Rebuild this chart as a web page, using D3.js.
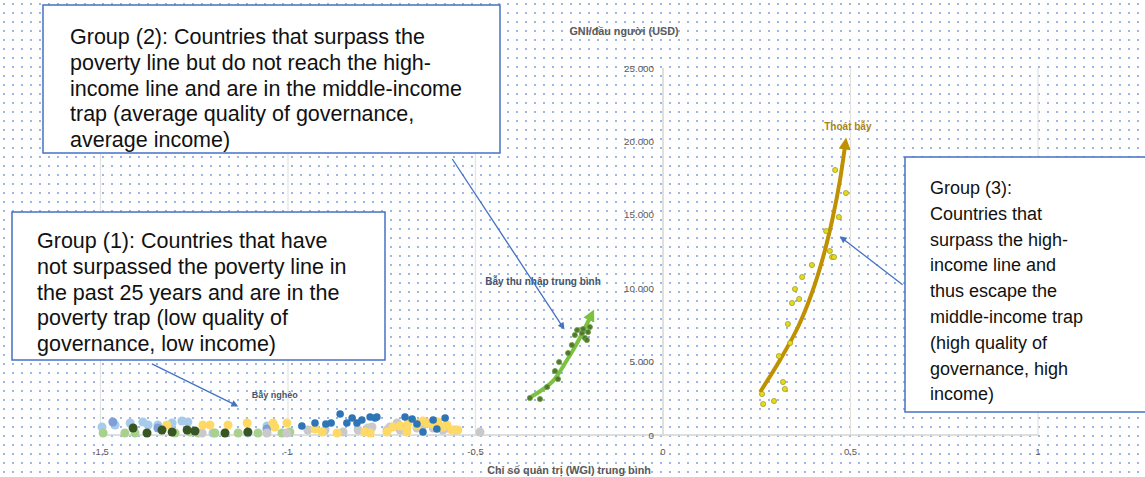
<!DOCTYPE html>
<html>
<head>
<meta charset="utf-8">
<script src="https://cdn.jsdelivr.net/npm/d3@7"></script>
<style>
  html, body { margin: 0; padding: 0; background: #fff; }
  svg { display: block; }
</style>
</head>
<body>
<div id="chart"></div>
<script>
// axis ticks
const xTicks = [-1.5, -1, -0.5, 0, 0.5, 1];
const yTicks = [0, 5000, 10000, 15000, 20000, 25000];

// group (1) - poverty trap, one array per colour [WGI, GNI]
const lightBlue = [[-1.496,545],[-1.461,681],[-1.421,817],[-1.387,886],[-1.373,681],[-1.347,681],[-1.309,817],[-1.283,954],[-1.267,886],[-1.2,136],[-1.107,136],[-1.056,613]];
const blueGray = [[-1.467,886],[-1.347,477],[-1.056,409]];
const lightGreen = [[-1.493,136],[-1.435,136],[-1.408,136],[-1.301,136],[-1.261,204],[-1.24,136],[-1.195,136],[-1.133,136],[-1.08,136],[-1.016,136],[-0.995,204]];
const darkGreen = [[-1.413,477],[-1.376,136],[-1.336,341],[-1.309,204],[-1.269,341],[-1.248,272],[-1.168,136],[-1.107,204]];
const yellow = [[-1.323,681],[-1.227,681],[-1.208,681],[-1.16,681],[-1.109,817],[-1.04,817],[-1.035,545],[-1.003,817],[-0.928,409],[-0.909,204],[-0.869,136],[-0.795,204],[-0.781,136],[-0.736,204],[-0.72,545],[-0.701,613],[-0.683,477],[-0.683,204],[-0.68,817],[-0.656,681],[-0.653,817],[-0.64,954],[-0.629,817],[-0.613,749],[-0.6,886],[-0.6,681],[-0.587,545],[-0.576,681],[-0.563,341],[-0.547,341]];
const gray = [[-1.229,136],[-1.056,136],[-1.003,136],[-0.947,341],[-0.901,341],[-0.853,204],[-0.813,341],[-0.787,477],[-0.776,545],[-0.736,341],[-0.728,545],[-0.709,817],[-0.701,341],[-0.693,477],[-0.656,477],[-0.64,681],[-0.613,477],[-0.587,341],[-0.576,477],[-0.555,341],[-0.488,204]];
const blue = [[-0.963,613],[-0.928,817],[-0.899,749],[-0.885,817],[-0.861,1431],[-0.843,817],[-0.829,1158],[-0.816,817],[-0.803,1022],[-0.781,1226],[-0.768,1158],[-0.763,1226],[-0.688,1226],[-0.669,1090],[-0.656,749],[-0.64,204],[-0.613,1022],[-0.603,409],[-0.581,1158]];

// group (2) - middle income trap
const middle = [[-0.355,2520],[-0.328,2452],[-0.309,3270],[-0.28,3815],[-0.288,4360],[-0.277,4973],[-0.253,5586],[-0.243,6131],[-0.235,6812],[-0.229,7153],[-0.216,6948],[-0.208,6608],[-0.203,6471],[-0.2,7016],[-0.195,7357],[-0.213,7221]];
const middleTrend = [[-0.357,2520],[-0.296,3610],[-0.256,5109],[-0.229,6267],[-0.195,7970]];

// group (3) - escaped
const escaped = [[0.459,18052],[0.488,16485],[0.469,14850],[0.435,13896],[0.445,12534],[0.451,12125],[0.456,12125],[0.397,11580],[0.371,10763],[0.352,9946],[0.344,8992],[0.363,9264],[0.333,7561],[0.339,6267],[0.309,5381],[0.32,3610],[0.325,3134],[0.264,2793],[0.267,2112],[0.296,2316]];
const escapedTrend = [[0.259,2929],[0.312,5109],[0.36,7357],[0.397,9673],[0.427,12125],[0.453,14850],[0.472,17371],[0.485,19619]];

// callout arrows [from, to] in data units
const callouts = [
  [[-0.562,18800],[-0.271,7503]],
  [[-1.363,4843],[-1.146,2115]],
  [[0.639,10232],[0.483,13302]]
];

const W = 1145, H = 477;
const svg = d3.select("#chart").append("svg")
  .attr("width", W).attr("height", H);

// dotted background
const defs = svg.append("defs");
const pat = defs.append("pattern")
  .attr("id", "dots")
  .attr("width", 9).attr("height", 9)
  .attr("patternUnits", "userSpaceOnUse");
pat.append("circle").attr("cx", 4).attr("cy", 4).attr("r", 0.9).attr("fill", "#6f93dc");
svg.append("rect").attr("width", W).attr("height", H).attr("fill", "url(#dots)");

function marker(id, color, w, h) {
  defs.append("marker")
    .attr("id", id)
    .attr("viewBox", "0 0 10 10")
    .attr("refX", 2).attr("refY", 5)
    .attr("markerUnits", "userSpaceOnUse")
    .attr("markerWidth", w).attr("markerHeight", h)
    .attr("orient", "auto")
    .append("path").attr("d", "M0,0 L10,5 L0,10 Z").attr("fill", color);
}
marker("headBlue", "#4472C4", 9, 7);
marker("headGreen", "#7CC242", 12, 12);
marker("headGold", "#BF9000", 12, 12);

const x = d3.scaleLinear().domain([-1.5, 1]).range([100.5, 1038]);
const y = d3.scaleLinear().domain([0, 25000]).range([435, 68]);

const font = "Liberation Sans, Arial, sans-serif";

// vertical grid lines
svg.append("g")
  .selectAll("line")
  .data(xTicks.filter(d => d !== 0))
  .join("line")
  .attr("x1", d => x(d)).attr("x2", d => x(d))
  .attr("y1", y(25000)).attr("y2", y(0))
  .attr("stroke", "#e3e3e3").attr("stroke-width", 1.2);

// axes
svg.append("line")
  .attr("x1", x(-1.5)).attr("x2", x(1))
  .attr("y1", y(0)).attr("y2", y(0))
  .attr("stroke", "#d4d4d4").attr("stroke-width", 1.5);
svg.append("line")
  .attr("x1", x(0)).attr("x2", x(0))
  .attr("y1", y(25000)).attr("y2", y(0))
  .attr("stroke", "#d4d4d4").attr("stroke-width", 1.5);

svg.append("g")
  .selectAll("text")
  .data(xTicks)
  .join("text")
  .attr("x", d => x(d)).attr("y", 455)
  .attr("text-anchor", "middle")
  .attr("font-family", font)
  .attr("font-size", 9.5).attr("fill", "#595959")
  .text(d => String(d).replace(".", ","));

svg.append("g")
  .selectAll("text")
  .data(yTicks)
  .join("text")
  .attr("x", 654).attr("y", d => y(d) + 3.5)
  .attr("text-anchor", "end")
  .attr("font-family", font)
  .attr("font-size", 9.8).attr("fill", "#595959")
  .text(d => d3.format(",")(d).replace(/,/g, "."));

// axis titles
svg.append("text")
  .attr("x", 624).attr("y", 35)
  .attr("text-anchor", "middle")
  .attr("font-family", font)
  .attr("font-size", 10.8).attr("font-weight", "bold").attr("fill", "#595959")
  .text("GNI/đầu người (USD)");
svg.append("text")
  .attr("x", 569).attr("y", 474)
  .attr("text-anchor", "middle")
  .attr("font-family", font)
  .attr("font-size", 10.8).attr("font-weight", "bold").attr("fill", "#595959")
  .text("Chỉ số quản trị (WGI) trung bình");

// trend arrows
const line = d3.line().x(d => x(d[0])).y(d => y(d[1])).curve(d3.curveCatmullRom);
svg.append("path").datum(middleTrend)
  .attr("d", line).attr("fill", "none")
  .attr("stroke", "#7CC242").attr("stroke-width", 4)
  .attr("marker-end", "url(#headGreen)");
svg.append("path").datum(escapedTrend)
  .attr("d", line).attr("fill", "none")
  .attr("stroke", "#BF9000").attr("stroke-width", 4)
  .attr("marker-end", "url(#headGold)");

// poverty trap scatter
const povertySeries = [
  {data: lightBlue, color: "#A9CBEA", r: 4.5},
  {data: blueGray, color: "#7F9FD9", r: 4.5},
  {data: lightGreen, color: "#A9D18E", r: 4.5},
  {data: gray, color: "#C9C9C9", r: 4.5},
  {data: yellow, color: "#FFD966", r: 4.5},
  {data: darkGreen, color: "#375623", r: 4.5},
  {data: blue, color: "#2E75B6", r: 3.8}
];
povertySeries.forEach(s => {
  svg.append("g")
    .selectAll("circle")
    .data(s.data)
    .join("circle")
    .attr("cx", d => x(d[0])).attr("cy", d => y(d[1]))
    .attr("r", s.r).attr("fill", s.color);
});

svg.append("g")
  .selectAll("circle")
  .data(middle)
  .join("circle")
  .attr("cx", d => x(d[0])).attr("cy", d => y(d[1]))
  .attr("r", 2.6).attr("fill", "#4E7A2C").attr("stroke", "#6E9E45").attr("stroke-width", 0.8);

svg.append("g")
  .selectAll("circle")
  .data(escaped)
  .join("circle")
  .attr("cx", d => x(d[0])).attr("cy", d => y(d[1]))
  .attr("r", 2.6).attr("fill", "#E4DA16").attr("stroke", "#8C8A1E").attr("stroke-width", 0.6);

// group labels
function label(txt, xv, yv, color, size) {
  svg.append("text")
    .attr("x", x(xv)).attr("y", y(yv))
    .attr("text-anchor", "middle")
    .attr("font-family", font)
    .attr("font-size", size).attr("font-weight", "bold").attr("fill", color)
    .text(txt);
}
label("Bẫy nghèo", -1.035, 2520, "#44546A", 9);
label("Bẫy thu nhập trung bình", -0.32, 10220, "#44546A", 10);
label("Thoát bẫy", 0.493, 20750, "#A88418", 10);

// text boxes
const boxes = [
  {x: 43, y: 5, w: 457, h: 148, tx: 70, ty: 44, size: 21.5, lines: [
    "Group (2): Countries that surpass the",
    "poverty line but do not reach the high-",
    "income line and are in the middle-income",
    "trap (average quality of governance,",
    "average income)"]},
  {x: 12, y: 212, w: 373, h: 148, tx: 37, ty: 248, size: 21.5, lines: [
    "Group (1): Countries that have",
    "not surpassed the poverty line in",
    "the past 25 years and are in the",
    "poverty trap (low quality of",
    "governance, low income)"]},
  {x: 905, y: 157, w: 245, h: 255, tx: 930, ty: 194, size: 18, lines: [
    "Group (3):",
    "Countries that",
    "surpass the high-",
    "income line and",
    "thus escape the",
    "middle-income trap",
    "(high quality of",
    "governance, high",
    "income)"]}
];

// callout arrows
svg.append("g")
  .selectAll("line")
  .data(callouts)
  .join("line")
  .attr("x1", d => x(d[0][0])).attr("y1", d => y(d[0][1]))
  .attr("x2", d => x(d[1][0])).attr("y2", d => y(d[1][1]))
  .attr("stroke", "#4472C4").attr("stroke-width", 1.3)
  .attr("marker-end", "url(#headBlue)");

boxes.forEach(b => {
  const g = svg.append("g");
  g.append("rect")
    .attr("x", b.x).attr("y", b.y).attr("width", b.w).attr("height", b.h)
    .attr("fill", "#fff").attr("stroke", "#4472C4").attr("stroke-width", 1.5);
  g.append("text")
    .attr("font-family", font)
    .attr("font-size", b.size).attr("fill", "#111")
    .selectAll("tspan")
    .data(b.lines)
    .join("tspan")
    .attr("x", b.tx)
    .attr("y", (d, i) => b.ty + i * 25.8)
    .text(d => d);
});
</script>
</body>
</html>
